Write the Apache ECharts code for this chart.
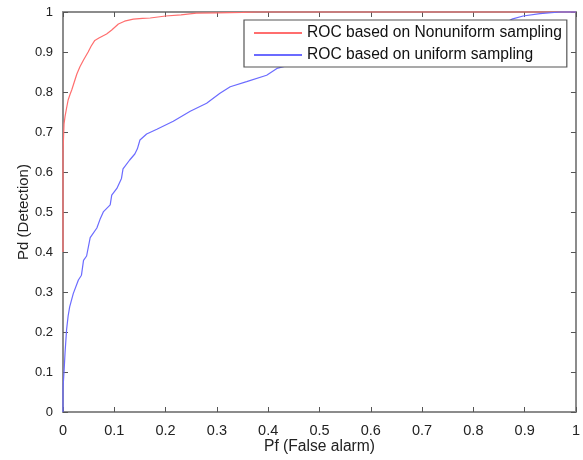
<!DOCTYPE html>
<html>
<head>
<meta charset="utf-8">
<script src="https://cdn.jsdelivr.net/npm/echarts@6/dist/echarts.min.js"></script>
<style>
html,body{margin:0;padding:0;background:#fff;}
#chart{width:583px;height:460px;}
</style>
</head>
<body>
<div id="chart"></div>
<script>
// ROC based on Nonuniform sampling
var nonuniformX = [0, 0, 0.002, 0.004, 0.007, 0.01, 0.014, 0.017, 0.022, 0.027, 0.033, 0.04, 0.049, 0.055, 0.062, 0.07, 0.085, 0.095, 0.108, 0.12, 0.137, 0.155, 0.17, 0.2, 0.23, 0.26, 0.3, 0.35, 0.38, 0.5, 0.7, 0.9, 1];
var nonuniformY = [0.4, 0.65, 0.72, 0.739, 0.76, 0.78, 0.795, 0.805, 0.825, 0.845, 0.863, 0.88, 0.9, 0.915, 0.929, 0.935, 0.945, 0.955, 0.97, 0.977, 0.982, 0.984, 0.985, 0.99, 0.993, 0.997, 0.998, 0.999, 1, 1, 1, 1, 1];
// ROC based on uniform sampling
var uniformX = [0, 0, 0.002, 0.004, 0.007, 0.01, 0.013, 0.02, 0.03, 0.036, 0.04, 0.046, 0.053, 0.066, 0.072, 0.079, 0.092, 0.095, 0.105, 0.114, 0.117, 0.13, 0.14, 0.145, 0.15, 0.163, 0.183, 0.215, 0.248, 0.28, 0.306, 0.326, 0.358, 0.397, 0.417, 0.45, 0.5, 0.6, 0.7, 0.8, 0.85, 0.875, 0.897, 0.93, 0.969, 1];
var uniformY = [0, 0.06, 0.1, 0.148, 0.206, 0.24, 0.263, 0.296, 0.33, 0.342, 0.379, 0.39, 0.436, 0.46, 0.481, 0.501, 0.518, 0.542, 0.559, 0.584, 0.608, 0.63, 0.645, 0.658, 0.68, 0.695, 0.707, 0.727, 0.752, 0.772, 0.797, 0.813, 0.826, 0.842, 0.859, 0.87, 0.885, 0.91, 0.935, 0.955, 0.965, 0.982, 0.99, 0.996, 1, 1];
var seriesNames = ['ROC based on Nonuniform sampling', 'ROC based on uniform sampling'];
var xTitle = 'Pf (False alarm)';
var yTitle = 'Pd (Detection)';

function pairs(xs, ys) { return xs.map(function (x, i) { return [x, ys[i]]; }); }

var FONT = "'Liberation Sans', Arial, sans-serif";
var axisGray = '#8c8c8c';

var chart = echarts.init(document.getElementById('chart'), null, {renderer: 'canvas'});
var baseAxis = {
  type: 'value', min: 0, max: 1, interval: 0.1,
  splitLine: {show: false},
  axisLine: {show: true, onZero: false, lineStyle: {color: axisGray, width: 2}},
  axisTick: {show: true, inside: true, length: 5, lineStyle: {color: '#555', width: 1}}
};
chart.setOption({
  animation: false,
  backgroundColor: '#fff',
  grid: {left: 63, right: 7, top: 12, bottom: 43, containLabel: false},
  legend: {
    orient: 'vertical', left: 244, top: 20,
    padding: [4, 5, 3, 9],
    itemWidth: 48, itemHeight: 14, itemGap: 4,
    backgroundColor: '#fff', borderColor: '#555', borderWidth: 1.2,
    itemStyle: {opacity: 0},
    lineStyle: {width: 2},
    textStyle: {fontFamily: FONT, fontSize: 15.6, color: '#111', lineHeight: 18},
    data: seriesNames
  },
  xAxis: [
    Object.assign({}, baseAxis, {
      position: 'bottom',
      name: xTitle, nameLocation: 'middle', nameGap: 27, nameMoveOverlap: false,
      nameTextStyle: {fontFamily: FONT, fontSize: 15.6, color: '#222'},
      axisLabel: {margin: 11, fontFamily: FONT, fontSize: 14.5, color: '#222'}
    }),
    Object.assign({}, baseAxis, {position: 'top', axisLabel: {show: false}})
  ],
  yAxis: [
    Object.assign({}, baseAxis, {
      position: 'left',
      name: yTitle, nameLocation: 'middle', nameGap: 32, nameRotate: 90, nameMoveOverlap: false,
      nameTextStyle: {fontFamily: FONT, fontSize: 15, color: '#222'},
      axisLabel: {margin: 10, fontFamily: FONT, fontSize: 13, color: '#222'}
    }),
    Object.assign({}, baseAxis, {position: 'right', axisLabel: {show: false}})
  ],
  series: [
    {
      name: seriesNames[0], type: 'line', symbol: 'none', clip: false,
      xAxisIndex: 0, yAxisIndex: 0, z: 3,
      lineStyle: {color: '#ff6e6e', width: 1.2}, itemStyle: {color: '#ff6e6e'},
      data: pairs(nonuniformX, nonuniformY)
    },
    {
      name: seriesNames[1], type: 'line', symbol: 'none', clip: false,
      xAxisIndex: 0, yAxisIndex: 0, z: 3,
      lineStyle: {color: '#6b6bff', width: 1.2}, itemStyle: {color: '#6b6bff'},
      data: pairs(uniformX, uniformY)
    }
  ]
});
</script>
</body>
</html>
